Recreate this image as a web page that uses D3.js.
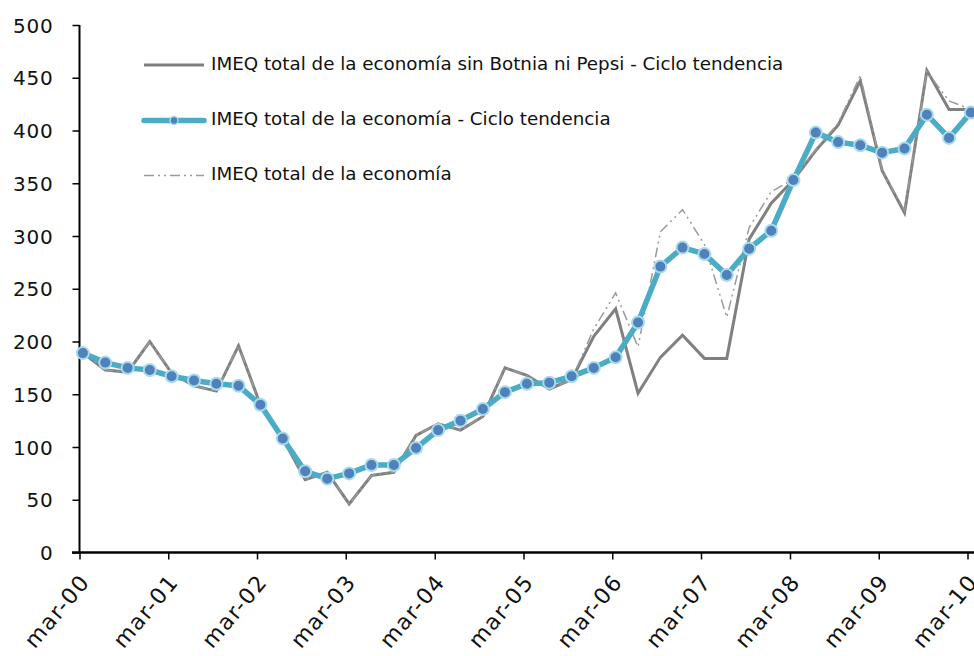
<!DOCTYPE html>
<html>
<head>
<meta charset="utf-8">
<script src="https://cdn.jsdelivr.net/npm/d3@7"></script>
<style>
  body { margin: 0; background: #fff; }
  text { font-family: "DejaVu Sans", sans-serif; fill: #111; }
</style>
</head>
<body>
<div id="chart"></div>
<script>
// Quarters, mar-00 .. mar-10
const quarters = [
  "mar-00","jun-00","sep-00","dic-00","mar-01","jun-01","sep-01","dic-01",
  "mar-02","jun-02","sep-02","dic-02","mar-03","jun-03","sep-03","dic-03",
  "mar-04","jun-04","sep-04","dic-04","mar-05","jun-05","sep-05","dic-05",
  "mar-06","jun-06","sep-06","dic-06","mar-07","jun-07","sep-07","dic-07",
  "mar-08","jun-08","sep-08","dic-08","mar-09","jun-09","sep-09","dic-09",
  "mar-10"
];

// IMEQ total de la economía sin Botnia ni Pepsi - Ciclo tendencia (grey solid)
const sinBotnia = [
  189, 173, 171, 200, 170, 158, 153, 196,
  140, 108, 69, 76, 46, 73, 76, 111,
  122, 116, 129, 175, 168, 155, 164, 205,
  231, 151, 185, 206, 184, 184, 297, 331,
  353, 381, 405, 447, 362, 322, 457, 420,
  420
];

// IMEQ total de la economía - Ciclo tendencia (blue with markers)
const cicloTendencia = [
  189, 180, 175, 173, 167, 163, 160, 158,
  140, 108, 77, 70, 75, 83, 83, 99,
  116, 125, 136, 152, 160, 161, 167, 175,
  185, 218, 271, 289, 283, 263, 288, 305,
  353, 398, 389, 386, 379, 383, 415, 393,
  417
];

// IMEQ total de la economía (grey dash-dot)
const imeqTotal = [
  189, 173, 171, 200, 170, 158, 153, 196,
  140, 108, 69, 76, 46, 73, 76, 111,
  122, 116, 129, 175, 168, 155, 164, 212,
  246, 195, 304, 325, 292, 223, 308, 342,
  354, 382, 407, 452, 362, 324, 456, 428,
  420
];

const yTicks = [0, 50, 100, 150, 200, 250, 300, 350, 400, 450, 500];
const xTickLabels = ["mar-00","mar-01","mar-02","mar-03","mar-04","mar-05",
                     "mar-06","mar-07","mar-08","mar-09","mar-10"];

const monthIdx = { mar: 2, jun: 5, sep: 8, dic: 11 };
const parseQ = (s, day) => {
  const [m, y] = s.split("-");
  return new Date(2000 + +y, monthIdx[m], day);
};

const width = 974, height = 656;

const svg = d3.select("#chart").append("svg")
  .attr("width", width)
  .attr("height", height);

const x = d3.scaleTime()
  .domain([parseQ("mar-00", 1), parseQ("mar-10", 1)])
  .range([79.5, 967.5]);

const y = d3.scaleLinear()
  .domain([0, 500])
  .range([552.5, 25]);

// data points sit mid-month
const dates = quarters.map(q => parseQ(q, 15));
const series = arr => arr.map((v, i) => ({ date: dates[i], value: v }));

const line = d3.line()
  .x(d => x(d.date))
  .y(d => y(d.value));

// y axis
const yAxis = svg.append("g")
  .attr("transform", "translate(79.5,0)")
  .call(d3.axisLeft(y).tickValues(yTicks).tickSize(7).tickPadding(20));
yAxis.select(".domain").attr("stroke", "#000").attr("stroke-width", 2)
  .attr("d", `M0,${y(500)}V${y(0)}`);
yAxis.selectAll(".tick line").attr("stroke", "#000").attr("stroke-width", 1.5);
yAxis.selectAll(".tick text")
  .style("font-family", "'DejaVu Sans', sans-serif")
  .style("font-size", "20px")
  .style("letter-spacing", "0.8px")
  .attr("x", -26)
  .attr("fill", "#111")
  .attr("dy", "0.36em");

// x axis
const xAxis = svg.append("g")
  .attr("transform", `translate(0,${y(0)})`)
  .call(d3.axisBottom(x)
    .tickValues(xTickLabels.map(s => parseQ(s, 1)))
    .tickFormat((d, i) => xTickLabels[i])
    .tickSize(7));
xAxis.select(".domain").attr("stroke", "#000").attr("stroke-width", 2.5)
  .attr("d", `M72,0H${width}`);
xAxis.selectAll(".tick line").attr("stroke", "#000").attr("stroke-width", 1.5);
xAxis.selectAll(".tick text")
  .style("font-family", "'DejaVu Sans', sans-serif")
  .style("font-size", "22px")
  .style("letter-spacing", "1.5px")
  .attr("fill", "#111")
  .attr("text-anchor", "end")
  .attr("dy", 0)
  .attr("y", 0)
  .attr("transform", "translate(11,30) rotate(-50)");

// lines
svg.append("path")
  .datum(series(sinBotnia))
  .attr("fill", "none")
  .attr("stroke", "#808080")
  .attr("stroke-width", 3)
  .attr("d", line);

svg.append("path")
  .datum(series(imeqTotal))
  .attr("fill", "none")
  .attr("stroke", "#9a9a9a")
  .attr("stroke-width", 1.5)
  .attr("stroke-dasharray", "10,4,2,4,2,4")
  .attr("d", line);

svg.append("path")
  .datum(series(cicloTendencia))
  .attr("fill", "none")
  .attr("stroke", "#4BACC6")
  .attr("stroke-width", 5.5)
  .attr("stroke-linejoin", "round")
  .attr("d", line);

svg.append("g")
  .selectAll("circle")
  .data(series(cicloTendencia))
  .join("circle")
  .attr("cx", d => x(d.date))
  .attr("cy", d => y(d.value))
  .attr("r", 6)
  .attr("fill", "#4F81BD")
  .attr("stroke", "#A8DAE8")
  .attr("stroke-width", 2);

// legend
const legend = [
  { label: "IMEQ total de la economía sin Botnia ni Pepsi - Ciclo tendencia", y: 65, type: "grey" },
  { label: "IMEQ total de la economía - Ciclo tendencia", y: 120.5, type: "blue" },
  { label: "IMEQ total de la economía", y: 175.5, type: "dash" }
];
const lg = svg.append("g");
legend.forEach(l => {
  const ln = lg.append("line")
    .attr("x1", 144).attr("x2", 204)
    .attr("y1", l.y).attr("y2", l.y);
  if (l.type === "grey") {
    ln.attr("stroke", "#808080").attr("stroke-width", 3);
  } else if (l.type === "blue") {
    ln.attr("stroke", "#4BACC6").attr("stroke-width", 5.5).attr("stroke-linecap", "round");
    lg.append("circle").attr("cx", 174).attr("cy", l.y).attr("r", 4)
      .attr("fill", "#4F81BD").attr("stroke", "#A8DAE8").attr("stroke-width", 1.5);
  } else {
    ln.attr("stroke", "#9a9a9a").attr("stroke-width", 1.5)
      .attr("stroke-dasharray", "10,4,2,4,2,4");
  }
  lg.append("text")
    .attr("x", 211)
    .attr("y", l.y)
    .attr("dy", "0.26em")
    .style("font-size", "18.3px")
    .text(l.label);
});
</script>
</body>
</html>
